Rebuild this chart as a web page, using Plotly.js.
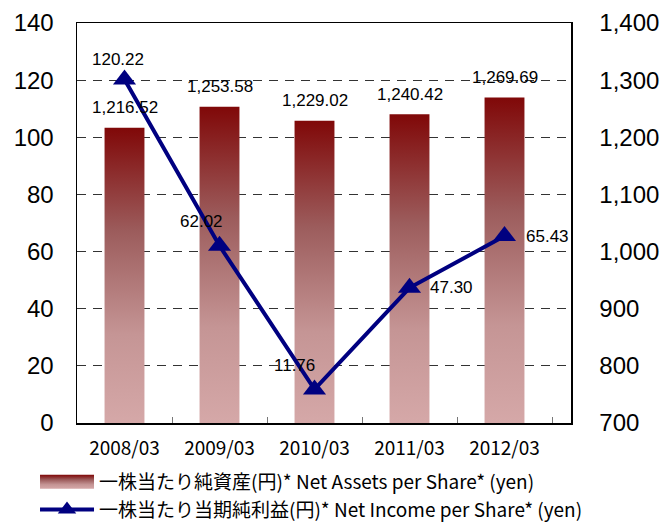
<!DOCTYPE html>
<html>
<head>
<meta charset="utf-8">
<script src="https://cdn.plot.ly/plotly-3.0.1.min.js"></script>
<style>
  html, body { margin: 0; padding: 0; background: #fff; }
  #chart { width: 662px; height: 523px; }
</style>
</head>
<body>
<div id="chart"></div>
<script>
// ---- data ----
var categories = ["2008/03", "2009/03", "2010/03", "2011/03", "2012/03"];
var netAssetsPerShare = [1216.52, 1253.58, 1229.02, 1240.42, 1269.69];
var netIncomePerShare = [120.22, 62.02, 11.76, 47.30, 65.43];
var netAssetsLabels = ["1,216.52", "1,253.58", "1,229.02", "1,240.42", "1,269.69"];
var netIncomeLabels = ["120.22", "62.02", "11.76", "47.30", "65.43"];
var seriesNames = [
  "一株当たり純資産(円)* Net Assets per Share* (yen)",
  "一株当たり当期純利益(円)* Net Income per Share* (yen)"
];

// ---- label placement (pixel offsets) ----
var incomeLabelShift = [[-7, 20], [-18, 24], [-20, 24], [42, 0], [43, 0]];

var latin = "Liberation Sans, Arial, sans-serif";
var jp = "Noto Sans CJK JP, sans-serif";

var barTrace = {
  type: "bar",
  name: seriesNames[0],
  x: categories,
  y: netAssetsPerShare,
  yaxis: "y",
  width: 0.42,
  marker: { color: "#a05858", line: { width: 0 } },
  hoverinfo: "none"
};

var lineTrace = {
  type: "scatter",
  mode: "lines+markers",
  name: seriesNames[1],
  x: categories,
  y: netIncomePerShare,
  yaxis: "y2",
  line: { color: "#000080", width: 4 },
  marker: { symbol: "triangle-up", size: 20, color: "#000080" },
  hoverinfo: "none"
};

var annotations = [];
categories.forEach(function (c, i) {
  annotations.push({
    x: c, y: netAssetsPerShare[i], xref: "x", yref: "y",
    text: netAssetsLabels[i], showarrow: false, yshift: 20,
    font: { family: latin, size: 17, color: "#000" }
  });
  annotations.push({
    x: c, y: netIncomePerShare[i], xref: "x", yref: "y2",
    text: netIncomeLabels[i], showarrow: false,
    xshift: incomeLabelShift[i][0], yshift: incomeLabelShift[i][1],
    font: { family: latin, size: 17, color: "#000" }
  });
});

var layout = {
  width: 662,
  height: 523,
  margin: { l: 77, r: 91, t: 23, b: 100, autoexpand: false },
  paper_bgcolor: "#fff",
  plot_bgcolor: "#fff",
  showlegend: true,
  legend: {
    orientation: "v",
    x: -0.085, xanchor: "left",
    y: -0.1, yanchor: "top",
    font: { family: jp, size: 19, color: "#000" },
    itemwidth: 54,
    traceorder: "normal",
    bgcolor: "rgba(0,0,0,0)"
  },
  xaxis: {
    type: "category",
    showline: true, linecolor: "#000", linewidth: 1.5, mirror: true,
    ticks: "inside", tickson: "boundaries", ticklen: 6, tickcolor: "#777", tickwidth: 1,
    tickfont: { family: jp, size: 19, color: "#000" },
    ticklabelstandoff: 8,
    showgrid: false,
    zeroline: false
  },
  yaxis: {
    side: "right",
    range: [700, 1400], dtick: 100, tick0: 700,
    tickformat: ",d",
    showline: true, linecolor: "#000", linewidth: 1.5,
    ticks: "", ticklabelstandoff: 22,
    tickfont: { family: latin, size: 24, color: "#000" },
    showgrid: true, gridcolor: "#333", gridwidth: 1, griddash: "9px,7px",
    zeroline: false
  },
  yaxis2: {
    side: "left", overlaying: "y",
    range: [0, 140], dtick: 20, tick0: 0,
    showline: true, linecolor: "#000", linewidth: 1.5,
    ticks: "", ticklabelstandoff: 17,
    tickfont: { family: latin, size: 24, color: "#000" },
    showgrid: false, zeroline: false
  },
  annotations: annotations
};

var gradStops = [["0", "#800808"], ["0.35", "#9c5c5c"], ["0.7", "#c59595"], ["1", "#d5a8a8"]];

function makeGradient(defs, id, attrs) {
  var svgNS = "http://www.w3.org/2000/svg";
  var grad = document.createElementNS(svgNS, "linearGradient");
  grad.setAttribute("id", id);
  Object.keys(attrs).forEach(function (k) { grad.setAttribute(k, attrs[k]); });
  gradStops.forEach(function (s) {
    var st = document.createElementNS(svgNS, "stop");
    st.setAttribute("offset", s[0]);
    st.setAttribute("stop-color", s[1]);
    grad.appendChild(st);
  });
  defs.appendChild(grad);
}

function applyGradient(gd) {
  var svgNS = "http://www.w3.org/2000/svg";
  var svg = gd.querySelector("svg.main-svg");
  var defs = svg.querySelector("defs");
  if (!defs) { defs = document.createElementNS(svgNS, "defs"); svg.insertBefore(defs, svg.firstChild); }
  var plotH = gd._fullLayout.yaxis._length;
  gd.querySelectorAll(".barlayer .point path").forEach(function (p, i) {
    var bb = p.getBBox();
    var id = "barGrad" + i;
    makeGradient(defs, id, { gradientUnits: "userSpaceOnUse", x1: 0, x2: 0, y1: bb.y, y2: plotH });
    p.style.fill = "url(#" + id + ")";
  });
  makeGradient(defs, "legendGrad", { x1: 0, y1: 0, x2: 0, y2: 1 });
  gd.querySelectorAll(".legend .traces .legendpoints path").forEach(function (p) {
    if (p.classList.contains("legendundefined") || p.classList.contains("legendbar")) {
      p.setAttribute("d", "M27,7H-27V-7H27Z");
      p.style.fill = "url(#legendGrad)";
    }
  });
}

Plotly.newPlot("chart", [barTrace, lineTrace], layout, { staticPlot: true, displayModeBar: false })
  .then(applyGradient);
</script>
</body>
</html>
